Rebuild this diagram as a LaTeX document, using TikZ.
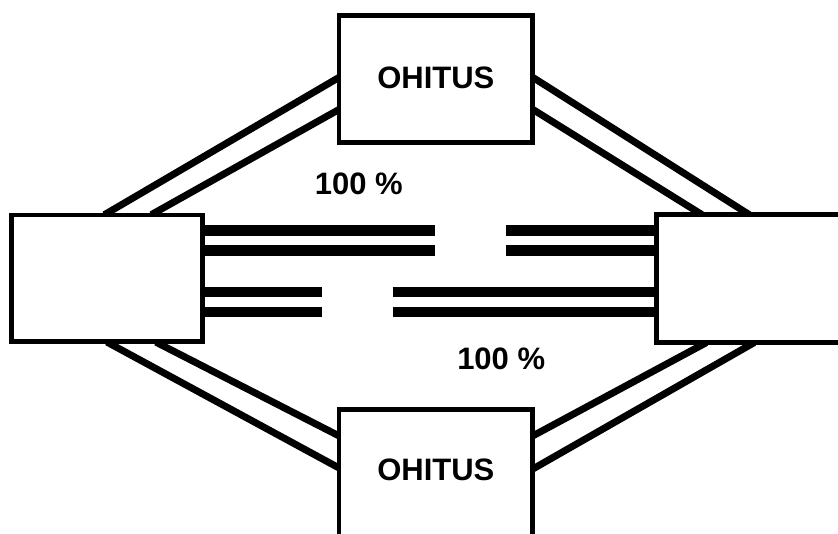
\documentclass[tikz,border=0pt]{standalone}
\usepackage{fontspec}
\setmainfont{Liberation Sans}
\usetikzlibrary{calc}
\pgfdeclarelayer{bg}
\pgfsetlayers{bg,main}
\begin{document}
\begin{tikzpicture}[x=1pt,y=-1pt,
  box/.style={draw, line width=4.5pt, fill=white, inner sep=0pt,
    font=\fontsize{31}{31}\selectfont\bfseries},
  pct/.style={inner sep=0pt, anchor=base, font=\fontsize{31}{31}\selectfont\bfseries},
  hline/.style={line width=10.5pt},
  dline/.style={line width=7pt, shorten <=-4pt, shorten >=-4pt}]
\useasboundingbox (0,0) rectangle (838,534);
% boxes
\node[box, minimum width=190.6pt, minimum height=126.7pt] (L) at (107,278.35) {};
\node[box, minimum width=190pt, minimum height=127.6pt] (R) at (751.7,278.5) {};
\node[box, minimum width=193.7pt, minimum height=126.6pt, text depth=3pt] (T) at (435.85,79) {OHITUS};
\node[box, minimum width=193.7pt, minimum height=126.6pt, text depth=6pt] (B) at (435.85,473) {OHITUS};
% labels
\node[pct] (p1) at (358.8,195) {100 \%};
\node[pct] (p2) at (501.2,369.3) {100 \%};
% free ends of the horizontal lines
\coordinate (g1) at (435,230.3);
\coordinate (g2) at (435,250.3);
\coordinate (g3) at (506,230.3);
\coordinate (g4) at (506,250.3);
\coordinate (g5) at (322.3,292);
\coordinate (g6) at (322.3,312);
\coordinate (g7) at (392.7,292);
\coordinate (g8) at (392.7,312);
\begin{pgfonlayer}{bg}
  % horizontal lines
  \draw[hline] (L.east |- g1) -- (g1);
  \draw[hline] (L.east |- g2) -- (g2);
  \draw[hline] (g3) -- (R.west |- g3);
  \draw[hline] (g4) -- (R.west |- g4);
  \draw[hline] (L.east |- g5) -- (g5);
  \draw[hline] (L.east |- g6) -- (g6);
  \draw[hline] (g7) -- (R.west |- g7);
  \draw[hline] (g8) -- (R.west |- g8);
  % diagonal lines
  \draw[dline] ($(L.north west)+(98.3,0)$) -- ($(T.north west)+(0,65.3)$);
  \draw[dline] ($(L.north west)+(145.3,0)$) -- ($(T.north west)+(0,97.3)$);
  \draw[dline] ($(T.north east)+(0,65.3)$) -- ($(R.north west)+(91.3,0)$);
  \draw[dline] ($(T.north east)+(0,97.3)$) -- ($(R.north west)+(44,0)$);
  \draw[dline] ($(L.south west)+(101,0)$) -- ($(B.north west)+(0,59.3)$);
  \draw[dline] ($(L.south west)+(150,0)$) -- ($(B.north west)+(0,27.3)$);
  \draw[dline] ($(B.north east)+(0,27.3)$) -- ($(R.south west)+(48.3,0)$);
  \draw[dline] ($(B.north east)+(0,60.3)$) -- ($(R.south west)+(96.3,0)$);
\end{pgfonlayer}
\end{tikzpicture}
\end{document}
